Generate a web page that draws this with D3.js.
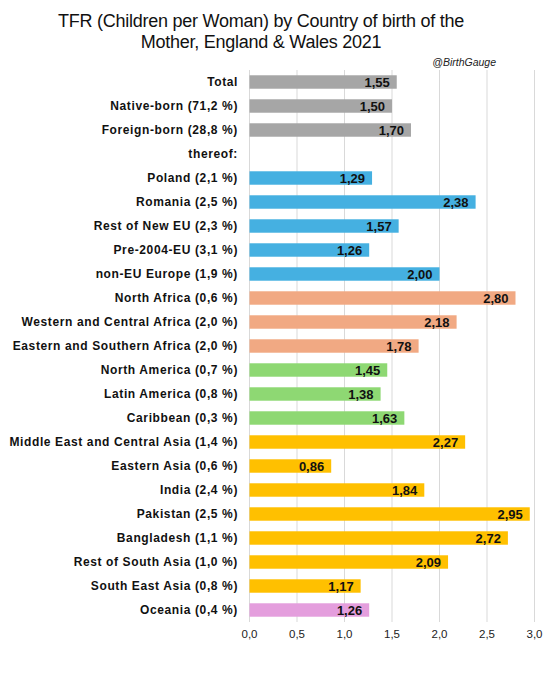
<!DOCTYPE html>
<html><head><meta charset="utf-8">
<script src="https://cdn.jsdelivr.net/npm/d3@7"></script>
<style>body{margin:0;background:#fff}svg{display:block}</style>
</head><body>
<svg id="c" width="558" height="676"></svg>
<script>
const categories = ["Total","Native-born (71,2 %)","Foreign-born (28,8 %)","thereof:","Poland (2,1 %)","Romania (2,5 %)","Rest of New EU (2,3 %)","Pre-2004-EU (3,1 %)","non-EU Europe (1,9 %)","North Africa (0,6 %)","Western and Central Africa (2,0 %)","Eastern and Southern Africa (2,0 %)","North America (0,7 %)","Latin America (0,8 %)","Caribbean (0,3 %)","Middle East and Central Asia (1,4 %)","Eastern Asia (0,6 %)","India (2,4 %)","Pakistan (2,5 %)","Bangladesh (1,1 %)","Rest of South Asia (1,0 %)","South East Asia (0,8 %)","Oceania (0,4 %)"];
const values = [1.55,1.50,1.70,null,1.29,2.38,1.57,1.26,2.00,2.80,2.18,1.78,1.45,1.38,1.63,2.27,0.86,1.84,2.95,2.72,2.09,1.17,1.26];
const groups = ["total","total","total","none","eu","eu","eu","eu","eu","africa","africa","africa","america","america","america","asia","asia","asia","asia","asia","asia","asia","oceania"];
const groupColors = {total:"#a6a6a6",none:"#fff",eu:"#45b0e1",africa:"#f1a983",america:"#8ed873",asia:"#ffc000",oceania:"#e49edd"};
const xTicks = [0,0.5,1,1.5,2,2.5,3];
const titleLines = ["TFR (Children per Woman) by Country of birth of the","Mother, England & Wales 2021"];

const svg = d3.select("#c");
const fmt = v => d3.format(".2f")(v).replace(".",",");
const fmtT = v => d3.format(".1f")(v).replace(".",",");
const x = d3.scaleLinear().domain([0,3]).range([249.5,534.5]);
const y = d3.scaleBand().domain(categories).range([70,622]).paddingInner(0.44).paddingOuter(0.22);

// grid
svg.append("g").selectAll("line").data(xTicks).join("line")
  .attr("x1",d=>x(d)).attr("x2",d=>x(d)).attr("y1",70).attr("y2",622)
  .attr("stroke","#d9d9d9").attr("stroke-width",1);

const data = categories.map((c,i)=>({c,v:values[i],g:groups[i]}));
svg.append("g").selectAll("rect").data(data.filter(d=>d.v!=null)).join("rect")
  .attr("x",x(0)).attr("y",d=>y(d.c)).attr("width",d=>x(d.v)-x(0)).attr("height",y.bandwidth())
  .attr("fill",d=>groupColors[d.g]);

svg.append("g").selectAll("text").data(data.filter(d=>d.v!=null)).join("text")
  .attr("x",d=>x(d.v)-7).attr("y",d=>y(d.c)+y.bandwidth()/2).attr("dy","0.36em")
  .attr("text-anchor","end").attr("font-family","Liberation Sans, Arial, sans-serif")
  .attr("font-weight","bold").attr("font-size",13).attr("fill","#111")
  .text(d=>fmt(d.v));

// category labels
svg.append("g").selectAll("text").data(categories).join("text")
  .attr("x",238).attr("y",d=>y(d)+y.bandwidth()/2).attr("dy","0.36em")
  .attr("text-anchor","end").attr("font-family","Liberation Sans, Arial, sans-serif")
  .attr("font-weight","bold").attr("font-size",12).attr("letter-spacing","0.62px").attr("fill","#111")
  .text(d=>d);

// x tick labels
svg.append("g").selectAll("text").data(xTicks).join("text")
  .attr("x",d=>x(d)).attr("y",634).attr("dy","0.36em").attr("text-anchor","middle")
  .attr("font-family","Liberation Sans, Arial, sans-serif").attr("font-size",11.5).attr("fill","#222")
  .text(fmtT);

// title
svg.append("g").selectAll("text").data(titleLines).join("text")
  .attr("x",261).attr("y",(d,i)=>27+i*21).attr("text-anchor","middle")
  .attr("font-family","Liberation Sans, Arial, sans-serif").attr("font-size",18).attr("letter-spacing","-0.25px").attr("fill","#111")
  .text(d=>d);

svg.append("text").attr("x",496).attr("y",66).attr("text-anchor","end")
  .attr("font-family","Liberation Sans, Arial, sans-serif").attr("font-style","italic").attr("font-size",10.5).attr("fill","#222")
  .text("@BirthGauge");
</script>
</body></html>
